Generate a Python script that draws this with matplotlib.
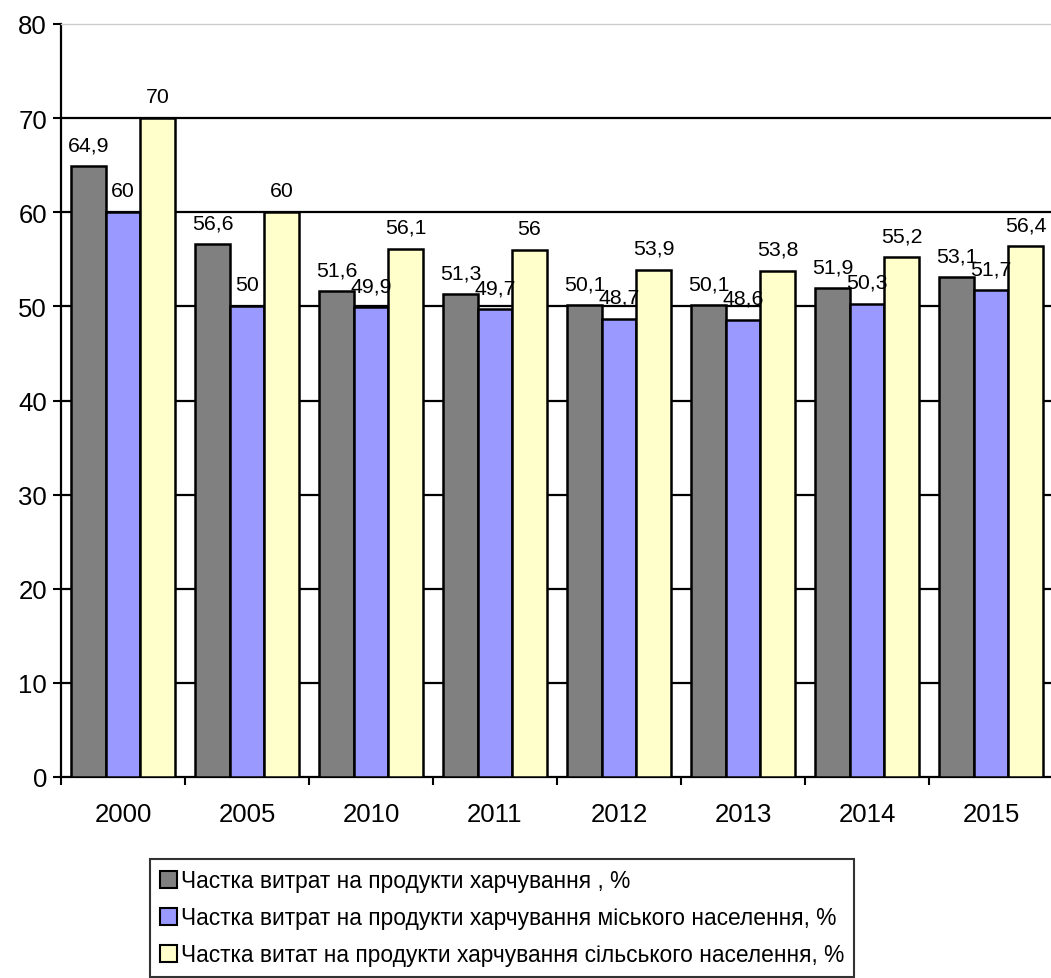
import numpy as np
import matplotlib
matplotlib.use('Agg')
import matplotlib.pyplot as plt
from matplotlib.patches import Patch

plt.rcParams['font.family'] = ['Liberation Sans', 'DejaVu Sans']

# Data
years = ['2000', '2005', '2010', '2011', '2012', '2013', '2014', '2015']
total = [64.9, 56.6, 51.6, 51.3, 50.1, 50.1, 51.9, 53.1]
urban = [60, 50, 49.9, 49.7, 48.7, 48.6, 50.3, 51.7]
rural = [70, 60, 56.1, 56, 53.9, 53.8, 55.2, 56.4]
series_names = ['Частка витрат на продукти харчування , %',
                'Частка витрат на продукти харчування міського населення, %',
                'Частка витат на продукти харчування сільського населення, %']
colors = ['#808080', '#9999FF', '#FFFFCC']

fig = plt.figure(figsize=(10.51, 9.79), dpi=100)
ax = fig.add_axes([61 / 1051, 1 - 778 / 979, 992 / 1051, 753 / 979])

x = np.arange(len(years))
w = 0.278
for i, (vals, c) in enumerate(zip([total, urban, rural], colors)):
    pos = x + (i - 1) * w
    ax.bar(pos, vals, w, color=c, edgecolor='black', linewidth=1.8, zorder=3)
    for xp, v in zip(pos, vals):
        lbl = ('%g' % v).replace('.', ',')
        ax.annotate(lbl, (xp, v), xytext=(0, 16), textcoords='offset pixels',
                    ha='center', va='baseline', fontsize=15.3, zorder=4)

ax.set_xlim(-0.5, len(years) - 0.5)
ax.set_ylim(0, 80)
ax.set_yticks(np.arange(0, 81, 10))
ax.tick_params(axis='y', labelsize=18.5, length=6, width=1.5, direction='out', pad=4)

# gridlines behind bars
for yv in range(10, 80, 10):
    ax.axhline(yv, color='black', linewidth=1.6, zorder=1)

ax.set_xticks(x)
ax.set_xticklabels(years)
ax.tick_params(axis='x', which='major', length=0, labelsize=18.5, pad=18)
ax.set_xticks(np.arange(-0.5, len(years), 1), minor=True)
ax.tick_params(axis='x', which='minor', length=6, width=1.5, direction='out')

for s in ['left', 'bottom']:
    ax.spines[s].set_linewidth(1.6)
ax.spines['right'].set_visible(False)
ax.spines['top'].set_color('#cccccc')
ax.spines['top'].set_linewidth(1)

handles = [Patch(facecolor=c, edgecolor='black', linewidth=1.5) for c in colors]
leg = fig.legend(handles, series_names, loc='upper left',
                 bbox_to_anchor=(150 / 1051, 1 - 860 / 979),
                 fontsize=16.4, frameon=True, fancybox=False, borderaxespad=0,
                 handlelength=0.75, handleheight=0.75, handletextpad=0.15,
                 borderpad=0.45, labelspacing=0.62)
leg.get_frame().set_edgecolor('black')
leg.get_frame().set_linewidth(1.5)

fig.savefig('out.png', dpi=100)
